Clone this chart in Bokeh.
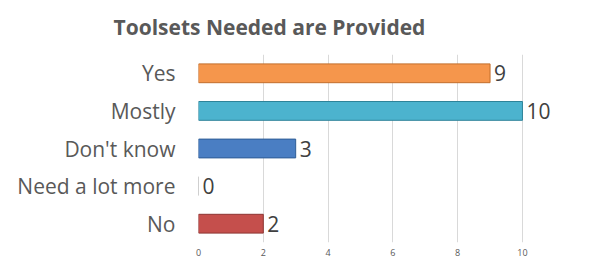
from bokeh.plotting import figure
from bokeh.models import ColumnDataSource, FactorRange, Range1d, Title, FixedTicker
from bokeh.core.properties import value
from bokeh.embed import file_html
from bokeh.resources import INLINE

title_text = "Toolsets Needed are Provided"
categories = ["Yes", "Mostly", "Don't know", "Need a lot more", "No"]
counts = [9, 10, 3, 0, 2]
fill_colors = ["#F5964C", "#4CB3CE", "#4A7EC3", "#F2F2F2", "#C54F4C"]
edge_colors = ["#C26E2C", "#2E8399", "#2E5D96", "#BFBFBF", "#8E3532"]
x_ticks = [0, 2, 4, 6, 8, 10, 12]

src = ColumnDataSource(dict(cat=categories, val=counts, fill=fill_colors,
                            edge=edge_colors, lab=[str(v) for v in counts]))

p = figure(width=578, height=258, output_backend="svg", toolbar_location=None,
           y_range=FactorRange(*categories[::-1], range_padding=0),
           x_range=Range1d(0, 11.73),
           min_border_left=198, min_border_right=0, min_border_top=54,
           min_border_bottom=0)

p.hbar(y="cat", right="val", left=0, height=0.5, source=src,
       fill_color="fill", line_color="edge", line_width=1)
p.text(x="val", y="cat", text="lab", source=src, x_offset=4,
       text_baseline="middle", text_align="left", text_font_size="21px",
       text_color="#404040", text_font=value("Open Sans"))

t = Title(text=title_text, align="left", vertical_align="top",
          text_font_size="21px", text_font="Open Sans", text_font_style="bold",
          text_color="#595959", offset=-85, standoff=24)
p.add_layout(t, "above")

p.xaxis.ticker = FixedTicker(ticks=x_ticks)
p.xaxis.axis_line_color = None
p.xaxis.major_tick_line_color = None
p.xaxis.minor_tick_line_color = None
p.xaxis.major_label_text_font_size = "9px"
p.xaxis.major_label_text_color = "#595959"
p.xaxis.major_label_text_font = "Open Sans"
p.xaxis.major_label_standoff = 0

p.yaxis.axis_line_color = None
p.yaxis.major_tick_line_color = None
p.yaxis.minor_tick_line_color = None
p.yaxis.major_label_text_font_size = "21px"
p.yaxis.major_label_text_color = "#595959"
p.yaxis.major_label_text_font = "Open Sans"
p.yaxis.major_label_standoff = 17

p.xgrid.grid_line_color = "#D9D9D9"
p.ygrid.grid_line_color = None
p.outline_line_color = None

open("out.html", "w").write(file_html(p, INLINE))
